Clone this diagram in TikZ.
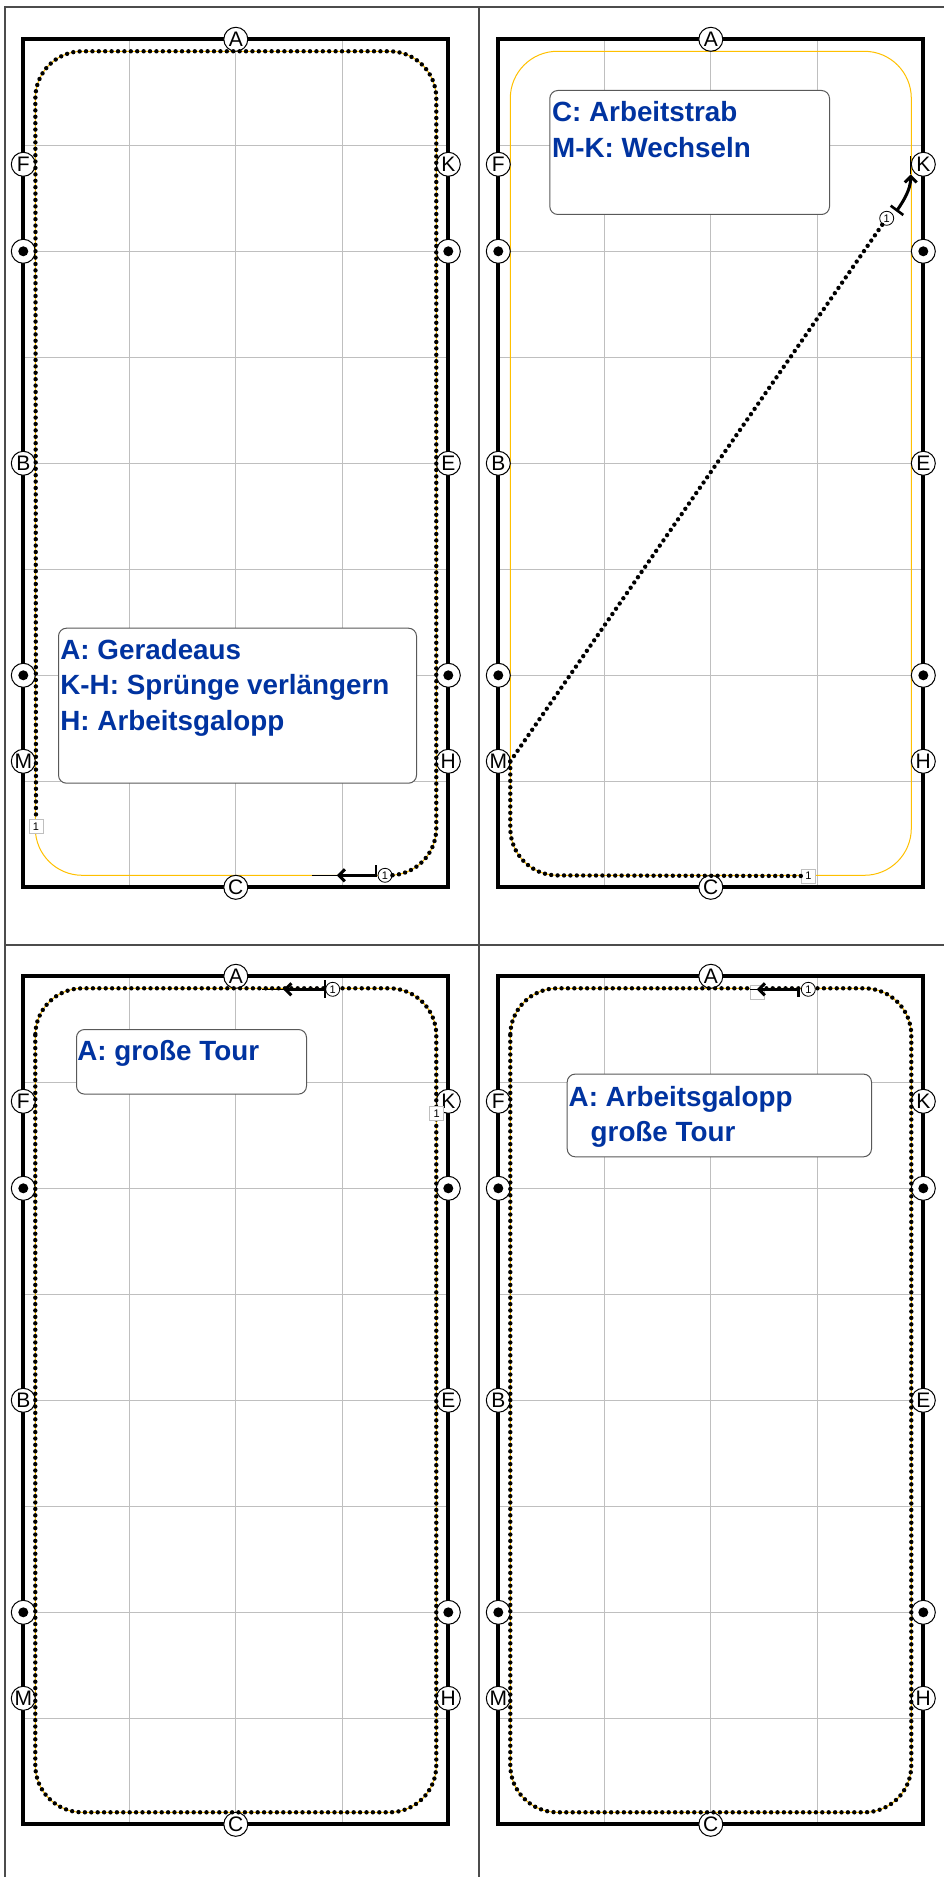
\documentclass[tikz,border=0pt]{standalone}
\usepackage{fontspec}
\setmainfont{Liberation Sans}
\usetikzlibrary{arrows.meta}

\definecolor{notecol}{RGB}{0,51,160}
\definecolor{trackcol}{RGB}{255,192,0}

\tikzset{
  frameline/.style={draw=black!70, line width=1pt},
  gridline/.style={draw=black!25, line width=0.5pt},
  arenaline/.style={draw=black, line width=2pt},
  track/.style={draw=trackcol, line width=0.5pt, rounded corners=23.5pt},
  route/.style={line width=2.2pt, dash pattern=on 0pt off 3.2pt, line cap=round},
  letter/.style={circle, draw, fill=white, line width=0.5pt, inner sep=0pt,
    minimum size=12pt, font=\fontsize{10.5}{10.5}\selectfont},
  dotmark/.style={letter, path picture={\fill[black] (path picture bounding box.center) circle (2.5pt);}},
  startmark/.style={circle, draw, fill=white, line width=0.4pt, inner sep=0pt,
    minimum size=7pt, font=\fontsize{5.5}{5.5}\selectfont},
  endmark/.style={rectangle, draw=black!25, fill=white, line width=0.5pt, inner sep=0pt,
    minimum size=7pt, font=\fontsize{5.5}{5.5}\selectfont},
  notebox/.style={draw=black!65, fill=white, line width=0.5pt, rounded corners=4pt,
    anchor=north west, inner sep=0pt},
  notetext/.style={text=notecol, font=\fontsize{13.9}{17.75}\selectfont\bfseries,
    align=left, anchor=north west, inner sep=0pt},
  move/.style={line width=1.5pt, -{Straight Barb[length=3pt,width=6pt]}},
  tick/.style={line width=1.3pt},
  tail/.style={line width=0.5pt}
}

\newcommand\arena[1]{%
  \foreach \gx in {106.25,212.5,318.75}
    \draw[gridline] (\gx,0) -- (\gx,848);
  \foreach \gy in {106,212,...,742}
    \draw[gridline] (0,\gy) -- (425,\gy);
  \draw[arenaline] (0,0) rectangle (425,848);
  \draw[track] (12,12) rectangle (413,836);
  \node[letter] (#1A) at (212.5,0) {A};
  \node[letter] (#1C) at (212.5,848) {C};
  \node[letter] (#1F) at (0,125) {F};
  \node[letter] (#1K) at (425,125) {K};
  \node[dotmark] (#1l1) at (0,212) {};
  \node[dotmark] (#1r1) at (425,212) {};
  \node[letter] (#1B) at (0,424) {B};
  \node[letter] (#1E) at (425,424) {E};
  \node[dotmark] (#1l2) at (0,636) {};
  \node[dotmark] (#1r2) at (425,636) {};
  \node[letter] (#1M) at (0,722) {M};
  \node[letter] (#1H) at (425,722) {H};
}

\begin{document}
\begin{tikzpicture}[x=0.5pt, y=-0.5pt]
\useasboundingbox (0,0) rectangle (944,1877);
\draw[frameline] (5,1877) -- (5,7) -- (944,7);
\draw[frameline] (479,7) -- (479,1877);
\draw[frameline] (5,945) -- (944,945);

% top left
\begin{scope}[shift={(23.3,39.3)}]
\arena{p1}
\node[notebox, minimum width=179pt, minimum height=77.5pt] (p1box) at (34.7,588.4) {};
\node[notetext] (p1text) at ([xshift=1pt, yshift=-5.6pt]p1box.north west)
{A: Geradeaus\\K-H: Sprünge verlängern\\H: Arbeitsgalopp};
\node[startmark] (p1s) at (361.7,836) {1};
\node[endmark] (p1e) at (12.7,787) {1};
\draw[route, rounded corners=23.5pt] (p1s) -- (413,836) -- (413,12) -- (12,12) -- (p1e);
\coordinate (p1t) at (352.7,836);
\coordinate (p1h) at (313.4,836);
\coordinate (p1x) at (288.4,836);
\draw[tick] ([yshift=5pt]p1t) -- ([yshift=-1pt]p1t);
\draw[move] (p1t) -- (p1h);
\draw[tail] (p1h) -- (p1x);
\end{scope}

% top right
\begin{scope}[shift={(498.3,39.3)}]
\arena{p2}
\node[notebox, minimum width=139.85pt, minimum height=62pt] (p2box) at (51,50.7) {};
\node[notetext] (p2text) at ([xshift=1.2pt, yshift=-5.7pt]p2box.north west)
{C: Arbeitstrab\\M-K: Wechseln};
\node[startmark] (p2s) at (388.4,179) {1};
\node[endmark] (p2e) at (310,836.7) {1};
\coordinate (p2m) at (12,722);
\draw[route, rounded corners=23.5pt] (p2e) -- (12,836) -- (p2m);
\draw[route] (p2m) -- (p2s);
\coordinate (p2t) at (398.7,171.1);
\coordinate (p2h) at (412.4,135);
\coordinate (p2x) at (412.4,117);
\draw[tick] (392.4,166.4) -- (405,175.7);
\draw[move] (p2t) .. controls (405.5,161.3) and (412.4,150) .. (p2h);
\draw[tail] (p2h) -- (p2x);
\end{scope}

% bottom left
\begin{scope}[shift={(23.3,976.3)}]
\arena{p3}
\node[notebox, minimum width=115pt, minimum height=32.3pt] (p3box) at (52.7,52.7) {};
\node[notetext] (p3text) at ([xshift=0.5pt, yshift=-5.6pt]p3box.north west)
{A: große Tour};
\draw[route, rounded corners=23.5pt] (12,12) rectangle (413,836);
\node[startmark] (p3s) at (309.4,13) {1};
\node[endmark] (p3e) at (413.4,137.3) {1};
\coordinate (p3t) at (301.7,13);
\coordinate (p3h) at (260,13);
\coordinate (p3x) at (238.4,13);
\draw[tick] ([yshift=4.5pt]p3t) -- ([yshift=-4.5pt]p3t);
\draw[move] (p3t) -- (p3h);
\draw[tail] (p3h) -- (p3x);
\end{scope}

% bottom right
\begin{scope}[shift={(498.3,976.3)}]
\arena{p4}
\node[notebox, minimum width=152.15pt, minimum height=41.35pt] (p4box) at (68.4,97.3) {};
\node[notetext] (p4text) at ([xshift=0.8pt, yshift=-6.1pt]p4box.north west)
{A: Arbeitsgalopp\\\hspace*{11pt}große Tour};
\draw[route, rounded corners=23.5pt] (12,12) rectangle (413,836);
\node[endmark] (p4e) at (259,15.7) {};
\node[startmark] (p4s) at (310,13) {1};
\coordinate (p4t) at (300,13);
\coordinate (p4h) at (258.4,13);
\coordinate (p4x) at (251.2,13);
\draw[tick] (p4t) -- ([yshift=-4pt]p4t);
\draw[move] (p4t) -- (p4h);
\draw[tail] (p4h) -- (p4x);
\end{scope}
\end{tikzpicture}
\end{document}
